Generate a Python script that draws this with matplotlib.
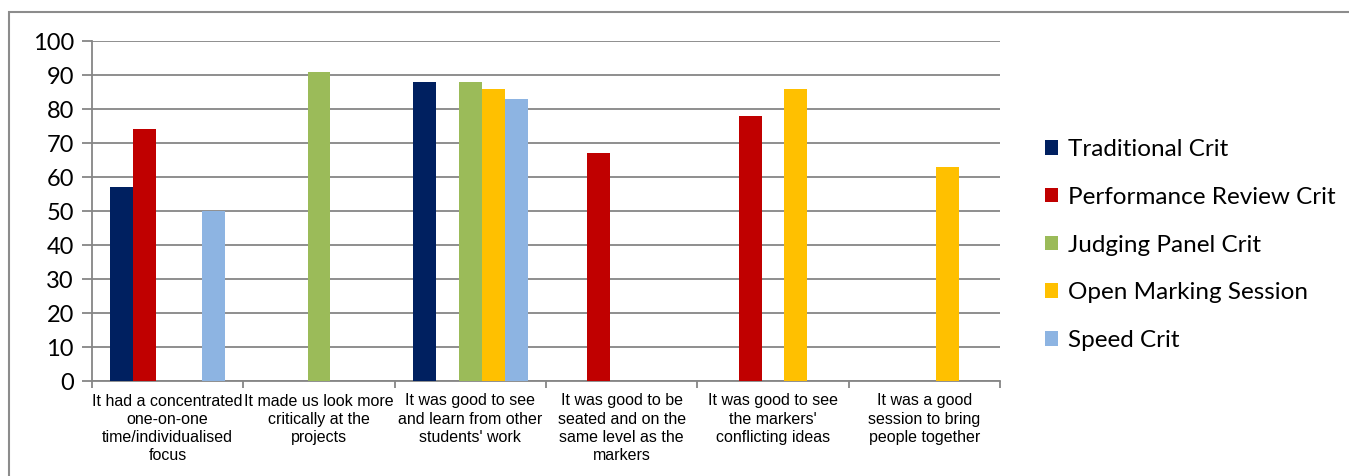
import matplotlib.pyplot as plt
import numpy as np
from matplotlib.patches import Rectangle

categories = [
    "It had a concentrated\none-on-one\ntime/individualised\nfocus",
    "It made us look more\ncritically at the\nprojects",
    "It was good to see\nand learn from other\nstudents' work",
    "It was good to be\nseated and on the\nsame level as the\nmarkers",
    "It was good to see\nthe markers'\nconflicting ideas",
    "It was a good\nsession to bring\npeople together",
]
series_names = ["Traditional Crit", "Performance Review Crit", "Judging Panel Crit",
                "Open Marking Session", "Speed Crit"]
traditional = [57, 0, 88, 0, 0, 0]
performance = [74, 0, 0, 67, 78, 0]
judging = [0, 91, 88, 0, 0, 0]
open_marking = [0, 0, 86, 0, 86, 63]
speed = [50, 0, 83, 0, 0, 0]
colors = ["#002060", "#C00000", "#9BBB59", "#FFC000", "#8DB4E2"]

fig = plt.figure(figsize=(13.49, 4.76), dpi=100)
# outer chart border
fig.patches.append(Rectangle((9 / 1349, -0.01), 1.0, 1 - 12 / 476 + 0.01,
                             transform=fig.transFigure, fill=False,
                             edgecolor="#8c8c8c", linewidth=1.5))

ax = fig.add_axes([92 / 1349, 1 - 381 / 476, (1000 - 92) / 1349, (381 - 41) / 476])

x = np.arange(len(categories))
w = 23 / 151.4
for k, (vals, name, col) in enumerate(zip(
        [traditional, performance, judging, open_marking, speed], series_names, colors)):
    ax.bar(x + (k - 2) * w, vals, width=w, color=col, label=name, zorder=3)

ax.set_xlim(-0.5, len(categories) - 0.5)
ax.set_ylim(0, 100)
ax.set_yticks(range(0, 101, 10))
ax.yaxis.grid(True, color="#868686", linewidth=1.3, zorder=0)
ax.set_axisbelow(True)

ax.set_xticks(x)
ax.set_xticklabels(categories, fontsize=11.5, family="Liberation Sans", linespacing=1.27)
ax.tick_params(axis="x", length=0, pad=9)
ax.set_xticks(np.arange(-0.5, len(categories)), minor=True)
ax.tick_params(axis="x", which="minor", length=5, color="#868686", width=1.3)
ax.tick_params(axis="y", length=7, color="#868686", width=1.3, pad=6)
for lab in ax.get_yticklabels():
    lab.set_fontfamily("Lato")
    lab.set_fontsize(17)

for side in ["top", "right"]:
    ax.spines[side].set_visible(False)
for side in ["left", "bottom"]:
    ax.spines[side].set_color("#868686")
    ax.spines[side].set_linewidth(1.3)

leg = ax.legend(loc="center left", bbox_to_anchor=(1.025, 0.40), frameon=False,
                prop={"family": "Lato", "size": 17.5}, handlelength=0.55,
                handleheight=0.55, handletextpad=0.4, labelspacing=1.1)

fig.savefig("out.png", dpi=100)
